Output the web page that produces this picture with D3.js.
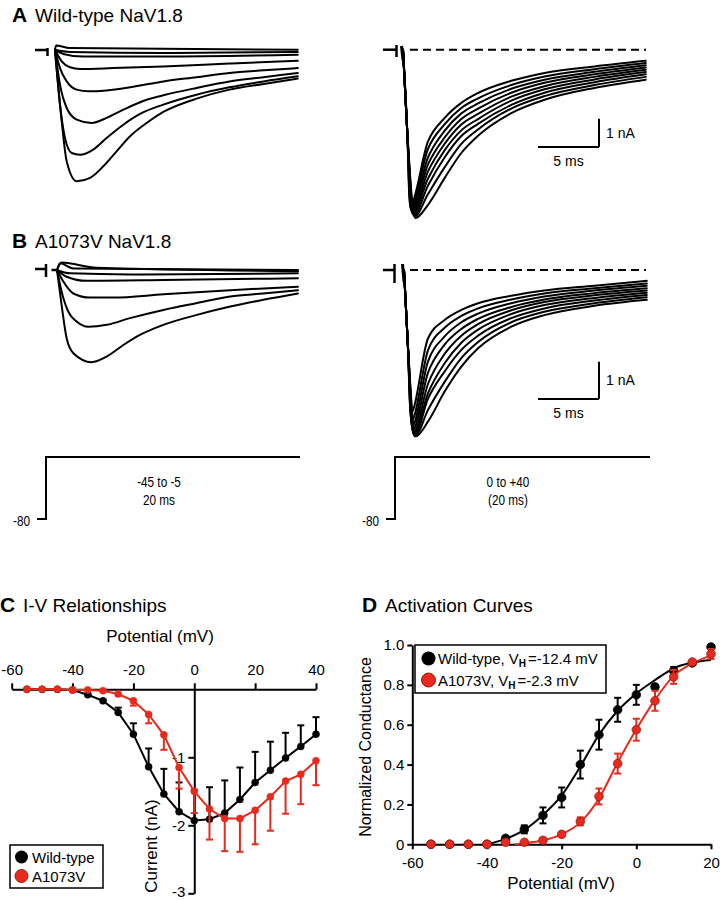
<!DOCTYPE html>
<html><head><meta charset="utf-8">
<script src="https://cdn.jsdelivr.net/npm/d3@7"></script>
<style>body{margin:0;background:#fff}svg{display:block}</style>
</head><body><svg id="chart" width="720" height="900"></svg>
<script>
// ---------- DATA ----------
// Panel A (wild-type) current traces, [time ms, current nA]
const wtLeftTraces = [
  [[0,0],[0.55,-2.53],[0.96,-3.95],[1.78,-4.65],[2.87,-4.53],[3.96,-4.12],[5.05,-3.59],[6.15,-3.06],[7.51,-2.59],[8.88,-2.20],[11.6,-1.73],[14.3,-1.41],[17.1,-1.21],[19.9,-1.02]],
  [[0,0],[0.41,-1.94],[0.82,-3.12],[1.37,-3.65],[2.05,-3.71],[3.14,-3.53],[4.23,-3.12],[5.6,-2.65],[6.97,-2.27],[8.88,-1.94],[11.6,-1.59],[14.3,-1.33],[17.1,-1.12],[19.9,-0.94]],
  [[0,0],[0.41,-1.24],[0.96,-2.06],[1.78,-2.47],[3.0,-2.59],[4.23,-2.41],[5.6,-2.12],[7.51,-1.77],[8.88,-1.61],[11.6,-1.35],[14.3,-1.12],[17.1,-0.97],[19.9,-0.82]],
  [[0,0],[0.41,-0.65],[0.96,-1.12],[1.78,-1.41],[2.73,-1.47],[4.23,-1.44],[6.15,-1.33],[8.88,-1.12],[11.6,-0.97],[14.3,-0.82],[17.1,-0.73],[19.9,-0.65]],
  [[0,0],[0.55,-0.41],[1.23,-0.62],[2.05,-0.68],[4.78,-0.65],[8.88,-0.59],[14.3,-0.49],[19.9,-0.39]],
  [[0,0],[0.68,-0.15],[2.3,-0.24],[8.88,-0.24],[19.9,-0.18]],
  [[0,0],[1.23,-0.08],[8.88,-0.12],[19.9,-0.08]],
  [[0,0],[0.1,0.15],[1.2,0.06],[19.9,0]]
];
const wtRightTraces = [
  [[0,0],[0.36,-3.0],[0.55,-5.54],[2.05,-3.24],[3.42,-2.41],[4.78,-1.88],[6.15,-1.53],[8.88,-1.10],[11.6,-0.82],[15.7,-0.59],[19.9,-0.39]],
  [[0,0],[0.36,-3.0],[0.60,-5.62],[2.05,-3.50],[3.42,-2.63],[4.78,-2.06],[6.15,-1.72],[8.88,-1.25],[11.6,-0.95],[15.7,-0.69],[19.9,-0.47]],
  [[0,0],[0.36,-3.0],[0.65,-5.66],[2.05,-3.80],[3.42,-2.86],[4.78,-2.25],[6.15,-1.90],[8.88,-1.38],[11.6,-1.06],[15.7,-0.78],[19.9,-0.55]],
  [[0,0],[0.36,-3.0],[0.70,-5.72],[2.05,-4.05],[3.42,-3.10],[4.78,-2.45],[6.15,-2.08],[8.88,-1.52],[11.6,-1.17],[15.7,-0.87],[19.9,-0.63]],
  [[0,0],[0.36,-3.0],[0.75,-5.78],[2.05,-4.30],[3.42,-3.32],[4.78,-2.64],[6.15,-2.27],[8.88,-1.66],[11.6,-1.29],[15.7,-0.96],[19.9,-0.71]],
  [[0,0],[0.36,-3.0],[0.80,-5.80],[2.05,-4.55],[3.42,-3.55],[4.78,-2.85],[6.15,-2.45],[8.88,-1.80],[11.6,-1.40],[15.7,-1.05],[19.9,-0.79]],
  [[0,0],[0.36,-3.0],[0.87,-5.86],[2.05,-4.80],[3.42,-3.80],[4.78,-3.05],[6.15,-2.62],[8.88,-1.95],[11.6,-1.52],[15.7,-1.15],[19.9,-0.87]],
  [[0,0],[0.36,-3.0],[0.94,-5.90],[2.05,-5.10],[3.42,-4.15],[4.78,-3.33],[6.15,-2.82],[8.88,-2.08],[11.6,-1.64],[15.7,-1.25],[19.9,-0.96]],
  [[0,0],[0.36,-3.0],[1.01,-5.95],[2.05,-5.48],[3.42,-4.53],[4.78,-3.65],[6.15,-3.04],[8.88,-2.24],[11.6,-1.77],[15.7,-1.35],[19.9,-1.06]]
];
// Panel B (A1073V) current traces
const mutLeftTraces = [
  [[0,0],[0.38,-0.94],[0.79,-1.83],[1.34,-2.23],[2.84,-2.47],[4.07,-2.32],[5.44,-2.01],[6.8,-1.74],[8.72,-1.47],[11.4,-1.21],[14.2,-0.98],[16.9,-0.80],[19.75,-0.63]],
  [[0,0],[0.38,-0.58],[0.93,-1.12],[1.61,-1.38],[2.57,-1.52],[4.07,-1.47],[5.98,-1.29],[8.72,-1.07],[11.4,-0.89],[14.2,-0.71],[16.9,-0.63],[19.75,-0.54]],
  [[0,0],[0.52,-0.31],[1.34,-0.63],[2.7,-0.74],[4.62,-0.74],[8.72,-0.65],[14.2,-0.54],[19.75,-0.45]],
  [[0,0],[0.79,-0.18],[2.43,-0.29],[8.72,-0.27],[19.75,-0.22]],
  [[0,0],[1.07,-0.09],[6.0,-0.12],[19.75,-0.09]],
  [[0,0],[0.25,0.18],[1.34,0.04],[19.75,0]],
  [[0,0],[0.38,0.20],[3.25,0.06],[19.75,-0.03]]
];
const mutRightTraces = [
  [[0,0],[0.3,-1.9],[0.55,-3.85],[1.97,-1.83],[3.33,-1.34],[4.7,-1.07],[6.07,-0.89],[8.8,-0.69],[11.5,-0.55],[15.6,-0.42],[19.9,-0.29]],
  [[0,0],[0.3,-1.9],[0.60,-4.05],[1.97,-2.15],[3.33,-1.55],[4.7,-1.23],[6.07,-1.03],[8.8,-0.79],[11.5,-0.63],[15.6,-0.49],[19.9,-0.36]],
  [[0,0],[0.3,-1.9],[0.65,-4.20],[1.97,-2.45],[3.33,-1.78],[4.7,-1.40],[6.07,-1.17],[8.8,-0.89],[11.5,-0.71],[15.6,-0.55],[19.9,-0.42]],
  [[0,0],[0.3,-1.9],[0.70,-4.30],[1.97,-2.75],[3.33,-2.00],[4.7,-1.58],[6.07,-1.31],[8.8,-0.99],[11.5,-0.79],[15.6,-0.62],[19.9,-0.49]],
  [[0,0],[0.3,-1.9],[0.75,-4.38],[1.97,-3.05],[3.33,-2.25],[4.7,-1.76],[6.07,-1.45],[8.8,-1.08],[11.5,-0.86],[15.6,-0.68],[19.9,-0.55]],
  [[0,0],[0.3,-1.9],[0.80,-4.42],[1.97,-3.30],[3.33,-2.50],[4.7,-1.95],[6.07,-1.60],[8.8,-1.18],[11.5,-0.94],[15.6,-0.75],[19.9,-0.61]],
  [[0,0],[0.3,-1.9],[0.85,-4.45],[1.97,-3.45],[3.33,-2.72],[4.7,-2.14],[6.07,-1.76],[8.8,-1.29],[11.5,-1.03],[15.6,-0.82],[19.9,-0.67]],
  [[0,0],[0.3,-1.9],[0.90,-4.46],[1.97,-3.75],[3.33,-3.00],[4.7,-2.36],[6.07,-1.93],[8.8,-1.40],[11.5,-1.12],[15.6,-0.89],[19.9,-0.73]],
  [[0,0],[0.3,-1.9],[0.95,-4.46],[1.97,-4.06],[3.33,-3.26],[4.7,-2.59],[6.07,-2.10],[8.8,-1.52],[11.5,-1.21],[15.6,-0.96],[19.9,-0.80]]
];

// Panel C: I-V relationships
const ivPotentials = [-55,-50,-45,-40,-35,-30,-25,-20,-15,-10,-5,0,5,10,15,20,25,30,35,40];
const ivWT      = [0,0,0,-0.01,-0.08,-0.17,-0.34,-0.66,-1.14,-1.54,-1.80,-1.93,-1.91,-1.82,-1.62,-1.37,-1.19,-1.01,-0.84,-0.66];
const ivWTerr   = [0,0,0,0,0.01,0.02,0.07,0.16,0.27,0.37,0.43,0.45,0.47,0.48,0.47,0.45,0.42,0.37,0.31,0.25];
const ivMut     = [0,0,0,-0.01,-0.01,-0.02,-0.07,-0.17,-0.37,-0.67,-1.15,-1.50,-1.76,-1.90,-1.90,-1.78,-1.58,-1.35,-1.25,-1.05];
const ivMutErr  = [0,0,0,0,0,0.01,0.02,0.07,0.13,0.22,0.31,0.32,0.45,0.48,0.49,0.50,0.50,0.48,0.44,0.36];
const ivXTicks = [-60,-40,-20,0,20,40];
const ivYTicks = [-1,-2,-3];

// Panel D: activation curves
const actPotentials = [-55,-50,-45,-40,-35,-30,-25,-20,-15,-10,-5,0,5,10,15,20];
const actWT     = [0,0,0,0,0.03,0.075,0.145,0.235,0.40,0.55,0.675,0.75,0.79,0.87,0.91,0.99];
const actWTerr  = [0,0,0,0,0.01,0.02,0.04,0.05,0.07,0.075,0.06,0.05,0.01,0.02,0.01,0.01];
const actMut    = [0,0,0,0,0.01,0.01,0.02,0.05,0.115,0.24,0.405,0.575,0.72,0.84,0.915,0.955];
const actMutErr = [0,0,0,0,0,0,0.01,0.01,0.02,0.04,0.05,0.055,0.05,0.035,0.01,0.025];
const fitWTV = [-40,-35,-30,-25,-20,-15,-10,-5,0,5,10,15,20];
const fitWTG = [0,0.027,0.072,0.147,0.245,0.39,0.55,0.67,0.757,0.824,0.883,0.912,0.925];
const fitMutV = [-32.5,-30,-25,-20,-15,-10,-5,0,5,10,15,20];
const fitMutG = [0,0.005,0.02,0.05,0.11,0.23,0.41,0.577,0.725,0.845,0.907,0.948];
const actXTicks = [-60,-40,-20,0,20];
const actYTicks = [0,0.2,0.4,0.6,0.8,1.0];

// ---------- DRAWING ----------
const RED = "#e62b1e", RED_EDGE = "#9e1a10";
const FONT = "'Liberation Sans', Arial, Helvetica, sans-serif";
const svg = d3.select("#chart").attr("font-family", FONT);
svg.append("rect").attr("width",720).attr("height",900).attr("fill","#fff");

function title(x, y, letter, text) {
  svg.append("text").attr("x",x).attr("y",y).attr("font-size",21).attr("font-weight","bold").text(letter);
  svg.append("text").attr("x",x+23).attr("y",y).attr("font-size",19).text(text);
}
title(12, 22, "A", "Wild-type NaV1.8");
title(12, 248, "B", "A1073V NaV1.8");
title(0, 612, "C", "I-V Relationships");
title(362, 612, "D", "Activation Curves");

function tracePanel(traces, x0, y0, pxPerNA) {
  const x = d3.scaleLinear().domain([0,20]).range([x0, x0+244]);
  const y = d3.scaleLinear().domain([0,-1]).range([y0, y0+pxPerNA]);
  const line = d3.line().x(d=>x(d[0])).y(d=>y(d[1])).curve(d3.curveMonotoneX);
  svg.append("g").selectAll("path").data(traces).join("path")
    .attr("d", line).attr("fill","none").attr("stroke","#000")
    .attr("stroke-width",2).attr("stroke-linejoin","round").attr("stroke-linecap","round");
  return {x, y};
}
function seg(x1,y1,x2,y2,w,dash){
  const l = svg.append("line").attr("x1",x1).attr("y1",y1).attr("x2",x2).attr("y2",y2)
    .attr("stroke","#000").attr("stroke-width",w||2);
  if (dash) l.attr("stroke-dasharray",dash);
  return l;
}

// Panel A
const aL = tracePanel(wtLeftTraces, 55, 49.7, 28.3);
seg(35,50,48,50,2.5); seg(47.5,48,47.5,56,2.5);
const aR = tracePanel(wtRightTraces, 403, 49.7, 28.3);
seg(401.5,46,403,60,3);
seg(410,49.7,646,49.7,2,"8,5");
seg(383,49.7,396,49.7,2.5); seg(396.5,45,396.5,57,2.5);
function scaleBar(p, cx, cy) {
  const w = p.x(5)-p.x(0), h = p.y(-1)-p.y(0);
  seg(cx-w, cy, cx, cy, 2); seg(cx, cy-h, cx, cy, 2);
  svg.append("text").attr("x",cx+7).attr("y",cy-h/2+5).attr("font-size",14).text("1 nA");
  svg.append("text").attr("x",cx-w/2).attr("y",cy+19).attr("font-size",14).attr("text-anchor","middle").text("5 ms");
}
scaleBar(aR, 599, 147);

// Panel B
const bL = tracePanel(mutLeftTraces, 57, 270, 37.3);
seg(35,269,46,269,2.5); seg(46,264,46,277,2.5); seg(51.5,270,58,270,2.5);
const bR = tracePanel(mutRightTraces, 404, 270, 37.3);
seg(402.5,264,404,282,3);
seg(410,270,646,270,2,"8,5");
seg(383,270,394,270,2.5); seg(394.5,264,394.5,283,2.5);
scaleBar(bR, 599, 399);

// Voltage protocols
function narrowText(x, y, anchor, str) {
  svg.append("text").attr("transform",`translate(${x},${y}) scale(0.84,1)`)
    .attr("font-size",14).attr("text-anchor",anchor).text(str);
}
function protocol(xs, xe, label1, label2) {
  svg.append("path").attr("d", `M${xs-9},519 H${xs} V457 H${xe}`).attr("fill","none")
    .attr("stroke","#000").attr("stroke-width",2);
  narrowText(xs-16, 526, "end", "-80");
  const cxm = xs + 113;
  narrowText(cxm, 487, "middle", label1);
  narrowText(cxm, 505, "middle", label2);
}
protocol(46, 300, "-45 to -5", "20 ms");
protocol(395, 650, "0 to +40", "(20 ms)");

// Panel C
const cx = d3.scaleLinear().domain([-60,40]).range([11.7,316]);
const cy = d3.scaleLinear().domain([-3,0]).range([893.3,689.3]);
const fmt = d => String(d);
const cxAxis = svg.append("g").attr("transform",`translate(0,${cy(0)})`)
  .call(d3.axisTop(cx).tickValues(ivXTicks).tickSize(6).tickSizeOuter(0).tickPadding(8).tickFormat(fmt));
const cyAxis = svg.append("g").attr("transform",`translate(${cx(0)},0)`)
  .call(d3.axisLeft(cy).tickValues(ivYTicks).tickSize(6).tickSizeOuter(0).tickPadding(3).tickFormat(fmt));
[cxAxis, cyAxis].forEach(g => {
  g.attr("font-family",FONT).attr("font-size",15);
  g.selectAll("path,line").attr("stroke-width",2);
  g.selectAll("text").attr("fill","#000");
});
cyAxis.selectAll("text").attr("dy", d => d === -3 ? "0.2em" : "0.36em");
svg.append("text").attr("x",160).attr("y",642).attr("font-size",17).attr("text-anchor","middle").text("Potential (mV)");
svg.append("text").attr("transform","translate(157,846) rotate(-90)").attr("font-size",17)
  .attr("text-anchor","middle").text("Current (nA)");

function ivSeries(vals, errs, dir, color, edge) {
  const pts = ivPotentials.map((v,i)=>({v, y: vals[i], e: errs[i]}));
  const g = svg.append("g");
  pts.filter(d=>d.e>0).forEach(d=>{
    const x = cx(d.v), y1 = cy(d.y), y2 = cy(d.y + dir*d.e);
    g.append("line").attr("x1",x).attr("x2",x).attr("y1",y1).attr("y2",y2).attr("stroke",color).attr("stroke-width",2);
    g.append("line").attr("x1",x-3.5).attr("x2",x+3.5).attr("y1",y2).attr("y2",y2).attr("stroke",color).attr("stroke-width",2);
  });
  g.append("path").datum(pts).attr("d", d3.line().x(d=>cx(d.v)).y(d=>cy(d.y)))
    .attr("fill","none").attr("stroke",color).attr("stroke-width",2);
  g.selectAll("circle").data(pts).join("circle").attr("cx",d=>cx(d.v)).attr("cy",d=>cy(d.y))
    .attr("r",3.5).attr("fill",color).attr("stroke",edge).attr("stroke-width",0.6);
}
ivSeries(ivWT, ivWTerr, +1, "#000", "#000");
ivSeries(ivMut, ivMutErr, -1, RED, RED);

// Legend C
svg.append("rect").attr("x",10).attr("y",845).attr("width",93).attr("height",43)
  .attr("fill","#fff").attr("stroke","#000").attr("stroke-width",1.5);
svg.append("circle").attr("cx",21.5).attr("cy",857).attr("r",6.5).attr("fill","#000");
svg.append("circle").attr("cx",21.5).attr("cy",876).attr("r",6.5).attr("fill",RED).attr("stroke",RED_EDGE).attr("stroke-width",1);
svg.append("text").attr("x",32).attr("y",862.5).attr("font-size",15).text("Wild-type");
svg.append("text").attr("x",32).attr("y",881.5).attr("font-size",15).text("A1073V");

// Panel D
const dx = d3.scaleLinear().domain([-60,20]).range([412.3,711]);
const dy = d3.scaleLinear().domain([0,1]).range([844.3,645]);
const dxAxis = svg.append("g").attr("transform",`translate(0,${dy(0)})`)
  .call(d3.axisBottom(dx).tickValues(actXTicks).tickSize(5).tickSizeOuter(0).tickPadding(8).tickFormat(fmt));
const dyAxis = svg.append("g").attr("transform",`translate(${dx(-60)},0)`)
  .call(d3.axisLeft(dy).tickValues(actYTicks).tickSize(5).tickSizeOuter(0).tickPadding(3)
    .tickFormat(d => d===0 ? "0" : d.toFixed(1)));
[dxAxis, dyAxis].forEach(g => {
  g.attr("font-family",FONT).attr("font-size",15);
  g.selectAll("path,line").attr("stroke-width",2);
  g.selectAll("text").attr("fill","#000");
});
svg.append("text").attr("x",561).attr("y",889).attr("font-size",17).attr("text-anchor","middle").text("Potential (mV)");
svg.append("text").attr("transform","translate(371,747) rotate(-90)").attr("font-size",16)
  .attr("text-anchor","middle").text("Normalized Conductance");

function fitLine(V, G, color) {
  svg.append("path").datum(V.map((v,i)=>[v,G[i]]))
    .attr("d", d3.line().x(d=>dx(d[0])).y(d=>dy(d[1])).curve(d3.curveMonotoneX))
    .attr("fill","none").attr("stroke",color).attr("stroke-width",2);
}
function actSeries(vals, errs, color, edge) {
  const pts = actPotentials.map((v,i)=>({v, y: vals[i], e: errs[i]}));
  const g = svg.append("g");
  pts.filter(d=>d.e>0.005).forEach(d=>{
    const x = dx(d.v), y1 = dy(d.y - d.e), y2 = dy(d.y + d.e);
    g.append("line").attr("x1",x).attr("x2",x).attr("y1",y1).attr("y2",y2).attr("stroke",color).attr("stroke-width",2);
    [y1,y2].forEach(yy => g.append("line").attr("x1",x-3.5).attr("x2",x+3.5).attr("y1",yy).attr("y2",yy).attr("stroke",color).attr("stroke-width",2));
  });
  g.selectAll("circle").data(pts).join("circle").attr("cx",d=>dx(d.v)).attr("cy",d=>dy(d.y))
    .attr("r",4.3).attr("fill",color).attr("stroke",edge).attr("stroke-width",0.8);
}
fitLine(fitWTV, fitWTG, "#000");
actSeries(actWT, actWTerr, "#000", "#000");
fitLine(fitMutV, fitMutG, RED);
actSeries(actMut, actMutErr, RED, RED_EDGE);

// Legend D
svg.append("rect").attr("x",415).attr("y",645).attr("width",191).attr("height",48)
  .attr("fill","#fff").attr("stroke","#000").attr("stroke-width",1.5);
svg.append("circle").attr("cx",428.5).attr("cy",658.5).attr("r",7).attr("fill","#000");
svg.append("circle").attr("cx",428.5).attr("cy",680).attr("r",7).attr("fill",RED).attr("stroke",RED_EDGE).attr("stroke-width",1);
function legText(y, name, val) {
  const t = svg.append("text").attr("x",438).attr("y",y).attr("font-size",15);
  t.append("tspan").text(name + ", V");
  t.append("tspan").attr("font-size",10).attr("font-weight","bold").attr("dy",3).text("H");
  t.append("tspan").attr("dy",-3).attr("dx",2).text("=" + val + " mV");
}
legText(664, "Wild-type", "-12.4");
legText(685.5, "A1073V", "-2.3");
</script></body></html>
